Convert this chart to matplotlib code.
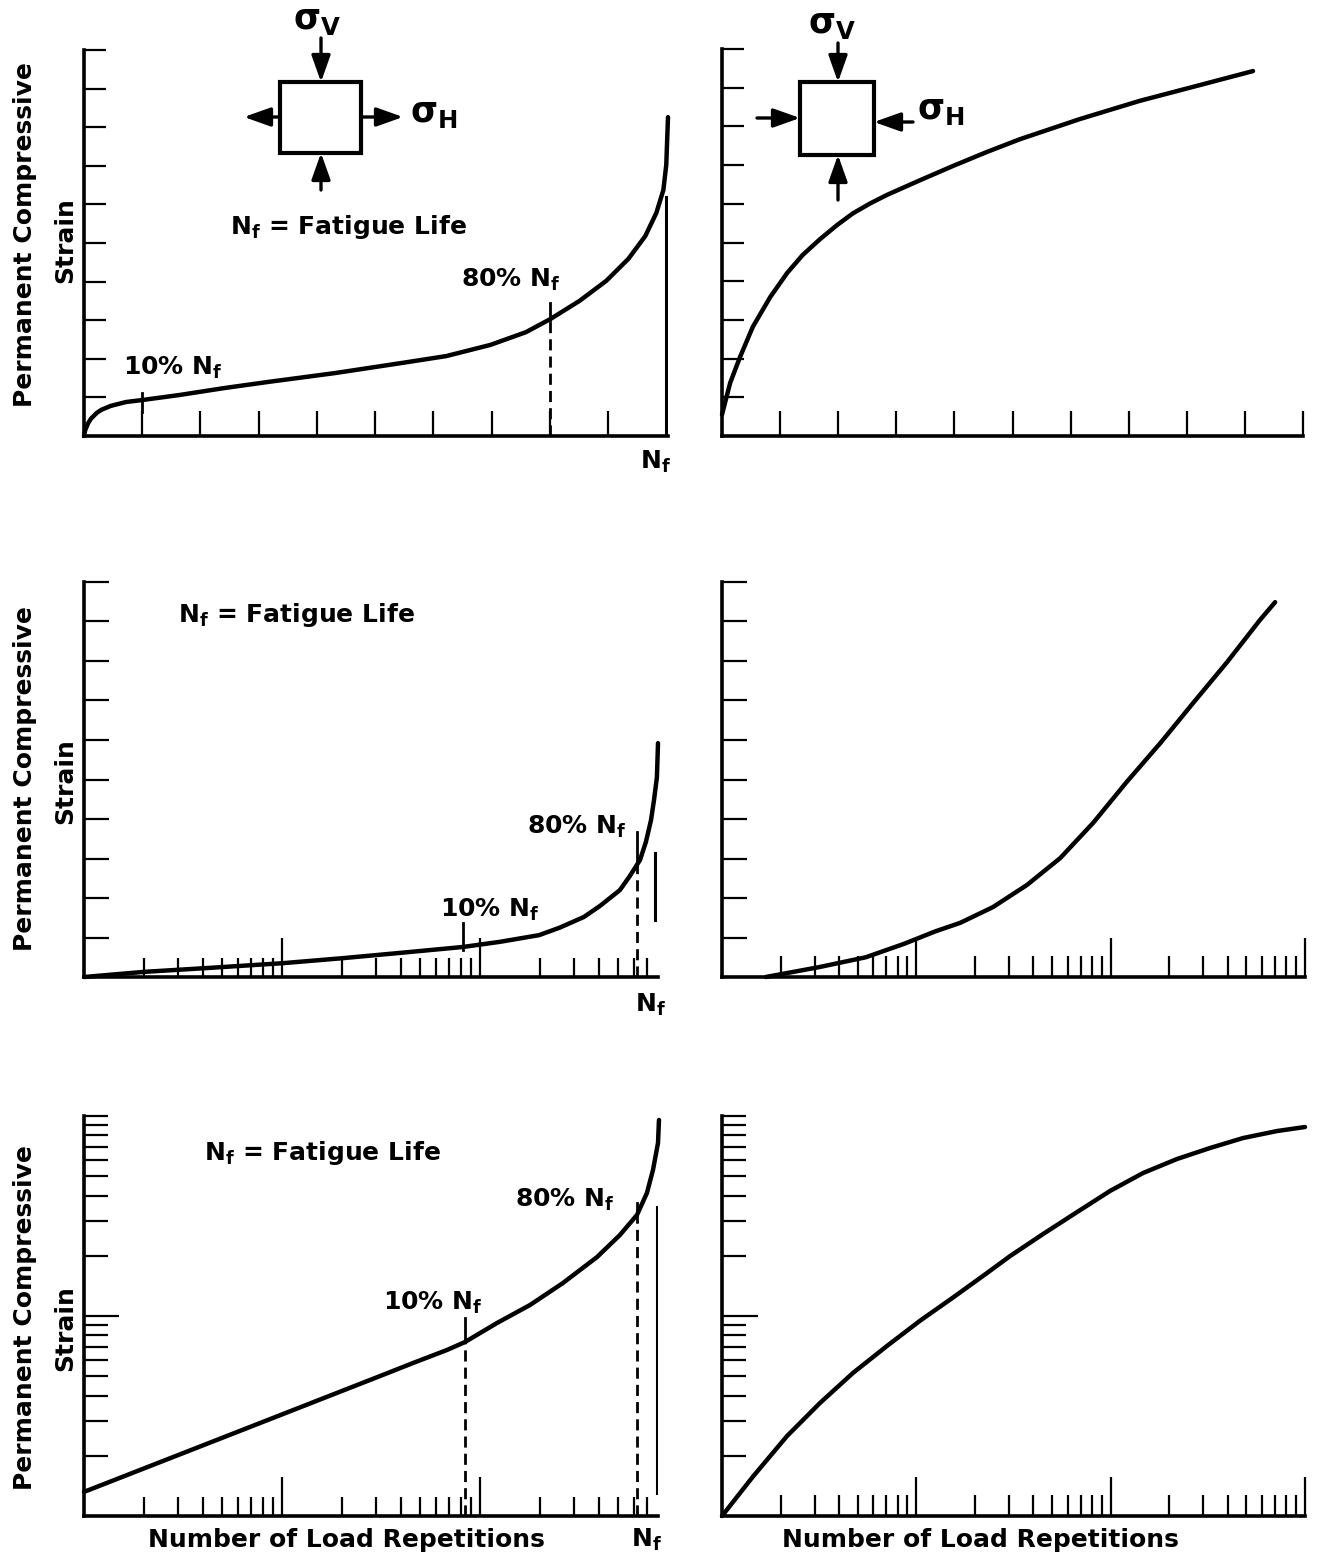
import matplotlib
matplotlib.use("Agg")
import matplotlib.pyplot as plt
from matplotlib.patches import Rectangle

plt.rcParams['font.family'] = ['DejaVu Sans']
plt.rcParams['font.weight'] = 'bold'
plt.rcParams['mathtext.fontset'] = 'custom'
plt.rcParams['mathtext.rm'] = 'DejaVu Sans:bold'
plt.rcParams['mathtext.it'] = 'DejaVu Sans:bold'
plt.rcParams['mathtext.bf'] = 'DejaVu Sans:bold'
plt.rcParams['mathtext.sf'] = 'DejaVu Sans:bold'

# --- curves (x = load repetitions, y = permanent strain) ---
# top row: linear / linear
tl_reps = [0, 0.02, 0.07, 0.12, 0.22, 0.3, 0.46, 0.72, 0.99, 1.63, 2.4, 3.16, 4.31, 5.45,
           6.22, 6.98, 7.59, 8.01, 8.51, 8.97, 9.35, 9.64, 9.83, 9.95, 10.0, 10.03]
tl_strain = [0, 0.15, 0.33, 0.45, 0.6, 0.68, 0.78, 0.88, 0.93, 1.06, 1.24, 1.4, 1.63, 1.89,
             2.07, 2.36, 2.69, 3.03, 3.5, 4.02, 4.59, 5.18, 5.78, 6.37, 7.02, 8.26]
tr_reps = [0, 0.02, 0.14, 0.31, 0.53, 0.83, 1.12, 1.39, 1.69, 1.98, 2.25, 2.55, 2.84, 3.41,
           3.98, 4.56, 5.13, 6.16, 7.19, 8.23, 9.14]
tr_strain = [0.55, 0.67, 1.37, 2.04, 2.82, 3.59, 4.21, 4.68, 5.09, 5.45, 5.75, 6.01, 6.23,
             6.61, 6.98, 7.34, 7.67, 8.19, 8.66, 9.07, 9.43]

# middle row: log / linear
ml_reps = [1.0, 2.01, 4.28, 10.1, 20.6, 39.4, 82, 126, 199, 253, 335, 404, 509, 572, 643,
           689, 731, 757, 783, 793]
ml_strain = [0.0, 0.13, 0.23, 0.35, 0.48, 0.61, 0.76, 0.89, 1.06, 1.25, 1.52, 1.8, 2.2,
             2.56, 2.96, 3.42, 3.97, 4.48, 5.06, 5.92]
mr_reps = [1.68, 3.16, 5.5, 8.65, 12.6, 16.8, 24.8, 37.1, 55, 81.2, 121, 180, 266, 397,
           587, 702]
mr_strain = [0.0, 0.25, 0.5, 0.84, 1.16, 1.37, 1.77, 2.33, 3.01, 3.9, 4.94, 5.92, 6.94,
             7.97, 9.04, 9.49]

# bottom row: log / log
bl_reps = [1.0, 5.59, 31.3, 45.9, 68.1, 84, 122, 179, 262, 390, 509, 621, 697, 748,
           793, 802]
bl_strain = [1.32, 2.57, 5.01, 5.82, 6.76, 7.41, 9.23, 11.35, 14.6, 19.7, 25.4, 32,
             41.2, 53.7, 73.3, 95.5]
br_reps = [1.0, 1.44, 2.16, 3.19, 4.72, 7.06, 10.4, 15.5, 23.1, 30.4, 44.9, 67.2, 99.3,
           147, 220, 325, 480, 718, 1000]
br_strain = [1.0, 1.57, 2.51, 3.67, 5.19, 7.08, 9.44, 12.4, 16.4, 19.95, 25.7, 33.1, 42.2,
             51.9, 61.0, 69.2, 77.6, 84.1, 88.1]

# 10% / 80% Nf markers: x, solid span, dashed top; Nf line x and span
tl_mark_x = [1.0, 8.0]
tl_mark_span = [(0.62, 1.11), (3.0, 3.45)]
tl_dash_x = [8.0]
tl_dash_top = [3.03]
tl_nf, tl_nf_span = 10.0, (0, 6.2)

ml_mark_x = [82, 621]
ml_mark_span = [(0.68, 1.37), (2.84, 3.67)]
ml_dash_x = [621]
ml_dash_top = [2.84]
ml_nf, ml_nf_span = 765, (1.44, 3.14)

bl_mark_x = [84, 621]
bl_mark_span = [(7.41, 9.8), (32.0, 36.6)]
bl_dash_x = [84, 621]
bl_dash_top = [7.41, 32.0]
bl_nf, bl_nf_span = 783, (1.3, 35)

W, H = 1317, 1558
fig = plt.figure(figsize=(W / 100, H / 100), dpi=100)


def panel(x0, x1, ytop, ybot):
    ax = fig.add_axes([x0 / W, 1 - ybot / H, (x1 - x0) / W, (ybot - ytop) / H])
    ax.set_facecolor('none')
    ax.spines['top'].set_visible(False)
    ax.spines['right'].set_visible(False)
    ax.spines['left'].set_linewidth(2.6)
    ax.spines['bottom'].set_linewidth(2.6)
    ax.tick_params(which='both', direction='in', width=1.6, color='k',
                   labelbottom=False, labelleft=False)
    return ax


def log_ticks(ax, axis, top, major_len, minor_len, majors):
    minors = [m * 10 ** d for d in range(3) for m in range(2, 11)
              if m * 10 ** d <= top * 1.001 and m * 10 ** d not in majors]
    if axis == 'x':
        ax.set_xticks(majors)
        ax.set_xticks(minors, minor=True)
    else:
        ax.set_yticks(majors)
        ax.set_yticks(minors, minor=True)
    ax.tick_params(axis=axis, which='major', length=major_len)
    ax.tick_params(axis=axis, which='minor', length=minor_len)


def markers(ax, mark_x, mark_span, dash_x, dash_top, nf, nf_span, ybase):
    for x, (lo, hi) in zip(mark_x, mark_span):
        ax.plot([x, x], [lo, hi], color='k', lw=2.0)
    for x, top in zip(dash_x, dash_top):
        ax.plot([x, x], [ybase, top], color='k', lw=2.0, linestyle=(0, (4, 2.2)))
    ax.plot([nf, nf], nf_span, color='k', lw=2.2)


curve_kw = dict(color='k', lw=3.2, solid_capstyle='round', solid_joinstyle='round',
                clip_on=False)

# top left
ax = panel(84, 668, 50, 436)
ax.set_xlim(0, 10.03)
ax.set_ylim(0, 10)
ax.set_xticks(range(1, 10))
ax.set_yticks(range(1, 11))
ax.tick_params(axis='x', length=18)
ax.tick_params(axis='y', length=16)
ax.plot(tl_reps, tl_strain, **curve_kw)
markers(ax, tl_mark_x, tl_mark_span, tl_dash_x, tl_dash_top, tl_nf, tl_nf_span, 0)

# top right
ax = panel(722, 1303, 49, 436)
ax.set_xlim(0, 10)
ax.set_ylim(0, 10)
ax.set_xticks(range(1, 11))
ax.set_yticks(range(1, 11))
ax.tick_params(axis='x', length=18)
ax.tick_params(axis='y', length=16)
ax.plot(tr_reps, tr_strain, **curve_kw)

# middle left
ax = panel(84, 658, 582, 977)
ax.set_xscale('log')
ax.set_xlim(1, 793)
ax.set_ylim(0, 10)
log_ticks(ax, 'x', 793, 28, 14, [10, 100])
ax.set_yticks(range(1, 11))
ax.tick_params(axis='y', length=18)
ax.plot(ml_reps, ml_strain, **curve_kw)
markers(ax, ml_mark_x, ml_mark_span, ml_dash_x, ml_dash_top, ml_nf, ml_nf_span, 0)

# middle right
ax = panel(722, 1305, 582, 977)
ax.set_xscale('log')
ax.set_xlim(1, 1000)
ax.set_ylim(0, 10)
log_ticks(ax, 'x', 1000, 28, 15, [10, 100, 1000])
ax.set_yticks(range(1, 11))
ax.tick_params(axis='y', length=18)
ax.plot(mr_reps, mr_strain, **curve_kw)

# bottom left
ax = panel(84, 658, 1116, 1516)
ax.set_xscale('log')
ax.set_yscale('log')
ax.set_xlim(1, 793)
ax.set_ylim(1, 100)
log_ticks(ax, 'x', 793, 28, 14, [10, 100])
log_ticks(ax, 'y', 100, 25, 17, [10])
ax.plot(bl_reps, bl_strain, **curve_kw)
markers(ax, bl_mark_x, bl_mark_span, bl_dash_x, bl_dash_top, bl_nf, bl_nf_span, 1)

# bottom right
ax = panel(722, 1305, 1116, 1516)
ax.set_xscale('log')
ax.set_yscale('log')
ax.set_xlim(1, 1000)
ax.set_ylim(1, 100)
log_ticks(ax, 'x', 1000, 28, 15, [10, 100, 1000])
log_ticks(ax, 'y', 100, 26, 17, [10])
ax.plot(br_reps, br_strain, **curve_kw)

# overlay in pixel units for labels and stress sketches
ov = fig.add_axes([0, 0, 1, 1])
ov.set_xlim(0, W)
ov.set_ylim(H, 0)
ov.axis('off')

txt = dict(ha='center', va='center', fontsize=18, fontweight='bold')
for cy1, cy2 in [(235, 240), (779, 781), (1318, 1328)]:
    ov.text(25, cy1, 'Permanent Compressive', rotation=90, **txt)
    ov.text(65, cy2, 'Strain', rotation=90, **txt)

ov.text(348, 227, r'N$_f$ = Fatigue Life', **txt)
ov.text(296, 615, r'N$_f$ = Fatigue Life', **txt)
ov.text(322, 1153, r'N$_f$ = Fatigue Life', **txt)

ov.text(511, 280, r'80% N$_f$', **txt)
ov.text(173, 368, r'10% N$_f$', **txt)
ov.text(577, 827, r'80% N$_f$', **txt)
ov.text(490, 910, r'10% N$_f$', **txt)
ov.text(565, 1200, r'80% N$_f$', **txt)
ov.text(433, 1303, r'10% N$_f$', **txt)

ov.text(655, 462, r'N$_f$', **txt)
ov.text(650, 1005, r'N$_f$', **txt)
ov.text(646, 1540, r'N$_f$', **txt)

ov.text(346, 1540, 'Number of Load Repetitions', **txt)
ov.text(980, 1540, 'Number of Load Repetitions', **txt)


def arrow(tail, tip):
    ov.annotate('', xy=tip, xytext=tail,
                arrowprops=dict(arrowstyle='-|>,head_length=0.9,head_width=0.32',
                                lw=2.4, color='k', shrinkA=0, shrinkB=0,
                                mutation_scale=18))


sig = dict(ha='center', va='center', fontsize=25, fontweight='bold')

# tension sketch (top left)
ov.add_patch(Rectangle((280, 82), 81, 71, fill=False, lw=3, ec='k'))
arrow((321, 38), (321, 82))
arrow((321, 190), (321, 153))
arrow((280, 117), (244, 117))
arrow((361, 117), (403, 117))
ov.text(317, 20, r'σ$_V$', **sig)
ov.text(434, 113, r'σ$_H$', **sig)

# compression sketch (top right)
ov.add_patch(Rectangle((800, 82), 74, 73, fill=False, lw=3, ec='k'))
arrow((838, 43), (838, 82))
arrow((838, 200), (838, 155))
arrow((757, 118), (800, 118))
arrow((913, 122), (874, 122))
ov.text(832, 24, r'σ$_V$', **sig)
ov.text(941, 110, r'σ$_H$', **sig)

fig.savefig('out.png', dpi=100)
